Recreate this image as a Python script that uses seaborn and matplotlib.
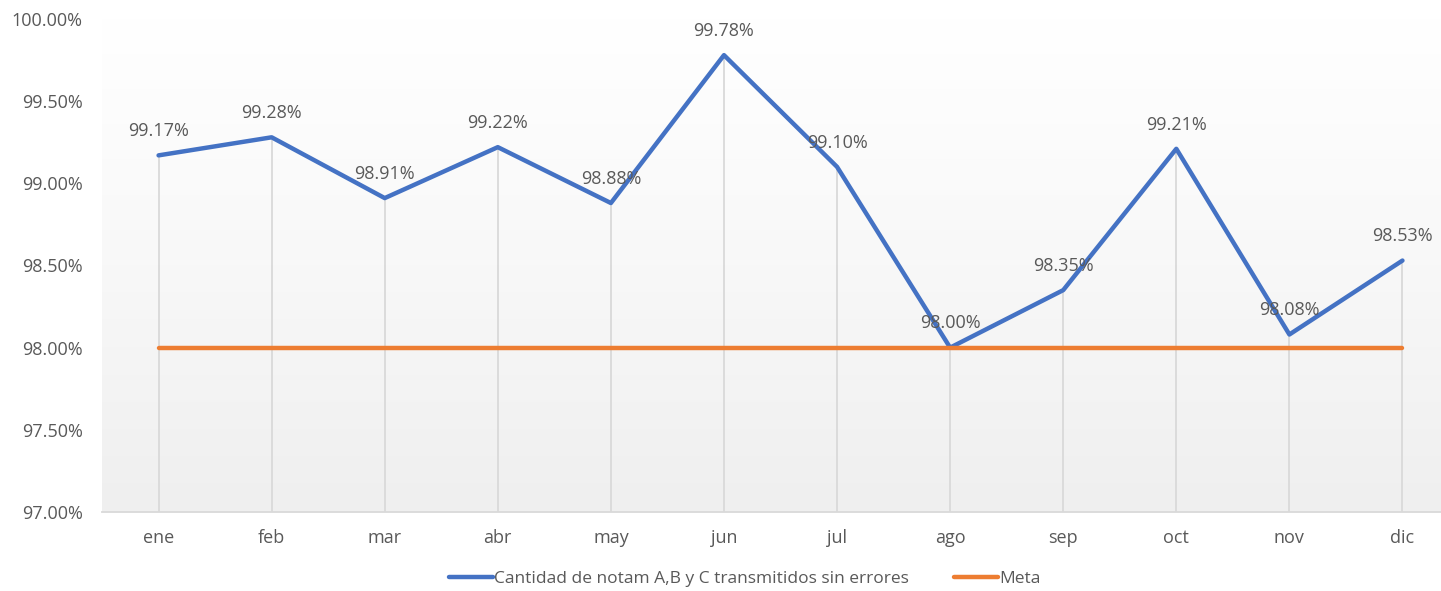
import numpy as np
import pandas as pd
import matplotlib
matplotlib.use("Agg")
import matplotlib.pyplot as plt
import seaborn as sns
from matplotlib.lines import Line2D
from matplotlib.colors import LinearSegmentedColormap

months = ["ene", "feb", "mar", "abr", "may", "jun", "jul", "ago", "sep", "oct", "nov", "dic"]
notam = [99.17, 99.28, 98.91, 99.22, 98.88, 99.78, 99.10, 98.00, 98.35, 99.21, 98.08, 98.53]
meta = [98.00] * 12
series_names = ["Cantidad de notam A,B y C transmitidos sin errores", "Meta"]
colors = ["#4472C4", "#ED7D31"]
yticks = [97.0, 97.5, 98.0, 98.5, 99.0, 99.5, 100.0]

sns.set_theme(style="white")
plt.rcParams['font.family'] = ['Open Sans', 'DejaVu Sans']

fig = plt.figure(figsize=(14.41, 5.91), dpi=100)
ax = fig.add_axes([0.0708, 0.1337, 0.9417, 0.8342])

x = np.arange(len(months))
df = pd.DataFrame({"mes": np.tile(x, 2),
                   "valor": notam + meta,
                   "serie": [series_names[0]] * 12 + [series_names[1]] * 12})

ax.set_xlim(-0.5, len(months) - 0.5)
ax.set_ylim(97.0, 100.0)

# gradient background (white at top, light gray at bottom)
grad = np.linspace(0, 1, 256).reshape(-1, 1)
cmap = LinearSegmentedColormap.from_list("g", ["#ffffff", "#f8f8f8", "#efefef"])
ax.imshow(grad, cmap=cmap, aspect="auto", extent=[-0.5, len(months) - 0.5, 97.0, 100.0],
          origin="upper", zorder=0)

# drop lines
tops = np.maximum(notam, meta)
ax.vlines(x, 97.0, tops, color="#d9d9d9", lw=1.3, zorder=1)

sns.lineplot(data=df, x="mes", y="valor", hue="serie", palette=colors, lw=3.2,
             ax=ax, legend=False, zorder=3, estimator=None)

for xi, v in zip(x, notam):
    ax.annotate(f"{v:.2f}%", (xi, v), xytext=(0, 11), textcoords="offset points",
                ha="center", va="bottom", fontsize=13, color="#595959", zorder=4)

ax.set_xticks(x)
ax.set_xticklabels(months)
ax.set_yticks(yticks)
ax.set_yticklabels([f"{t:.2f}%" for t in yticks])
ax.tick_params(axis="both", labelsize=13, colors="#595959", length=0)
ax.tick_params(axis="x", pad=12)
ax.tick_params(axis="y", pad=14)
ax.set_xlabel("")
ax.set_ylabel("")
for s in ["top", "right", "left"]:
    ax.spines[s].set_visible(False)
ax.spines["bottom"].set_color("#d9d9d9")
ax.spines["bottom"].set_linewidth(1.3)
ax.grid(False)

handles = [Line2D([0], [0], color=c, lw=3.2) for c in colors]
fig.legend(handles, series_names, loc="center", bbox_to_anchor=(0.517, 0.02), ncol=2,
           frameon=False, fontsize=12.5, handlelength=2.5, handletextpad=0.1,
           columnspacing=2.6, labelcolor="#595959")

fig.savefig("out.png", dpi=100)
